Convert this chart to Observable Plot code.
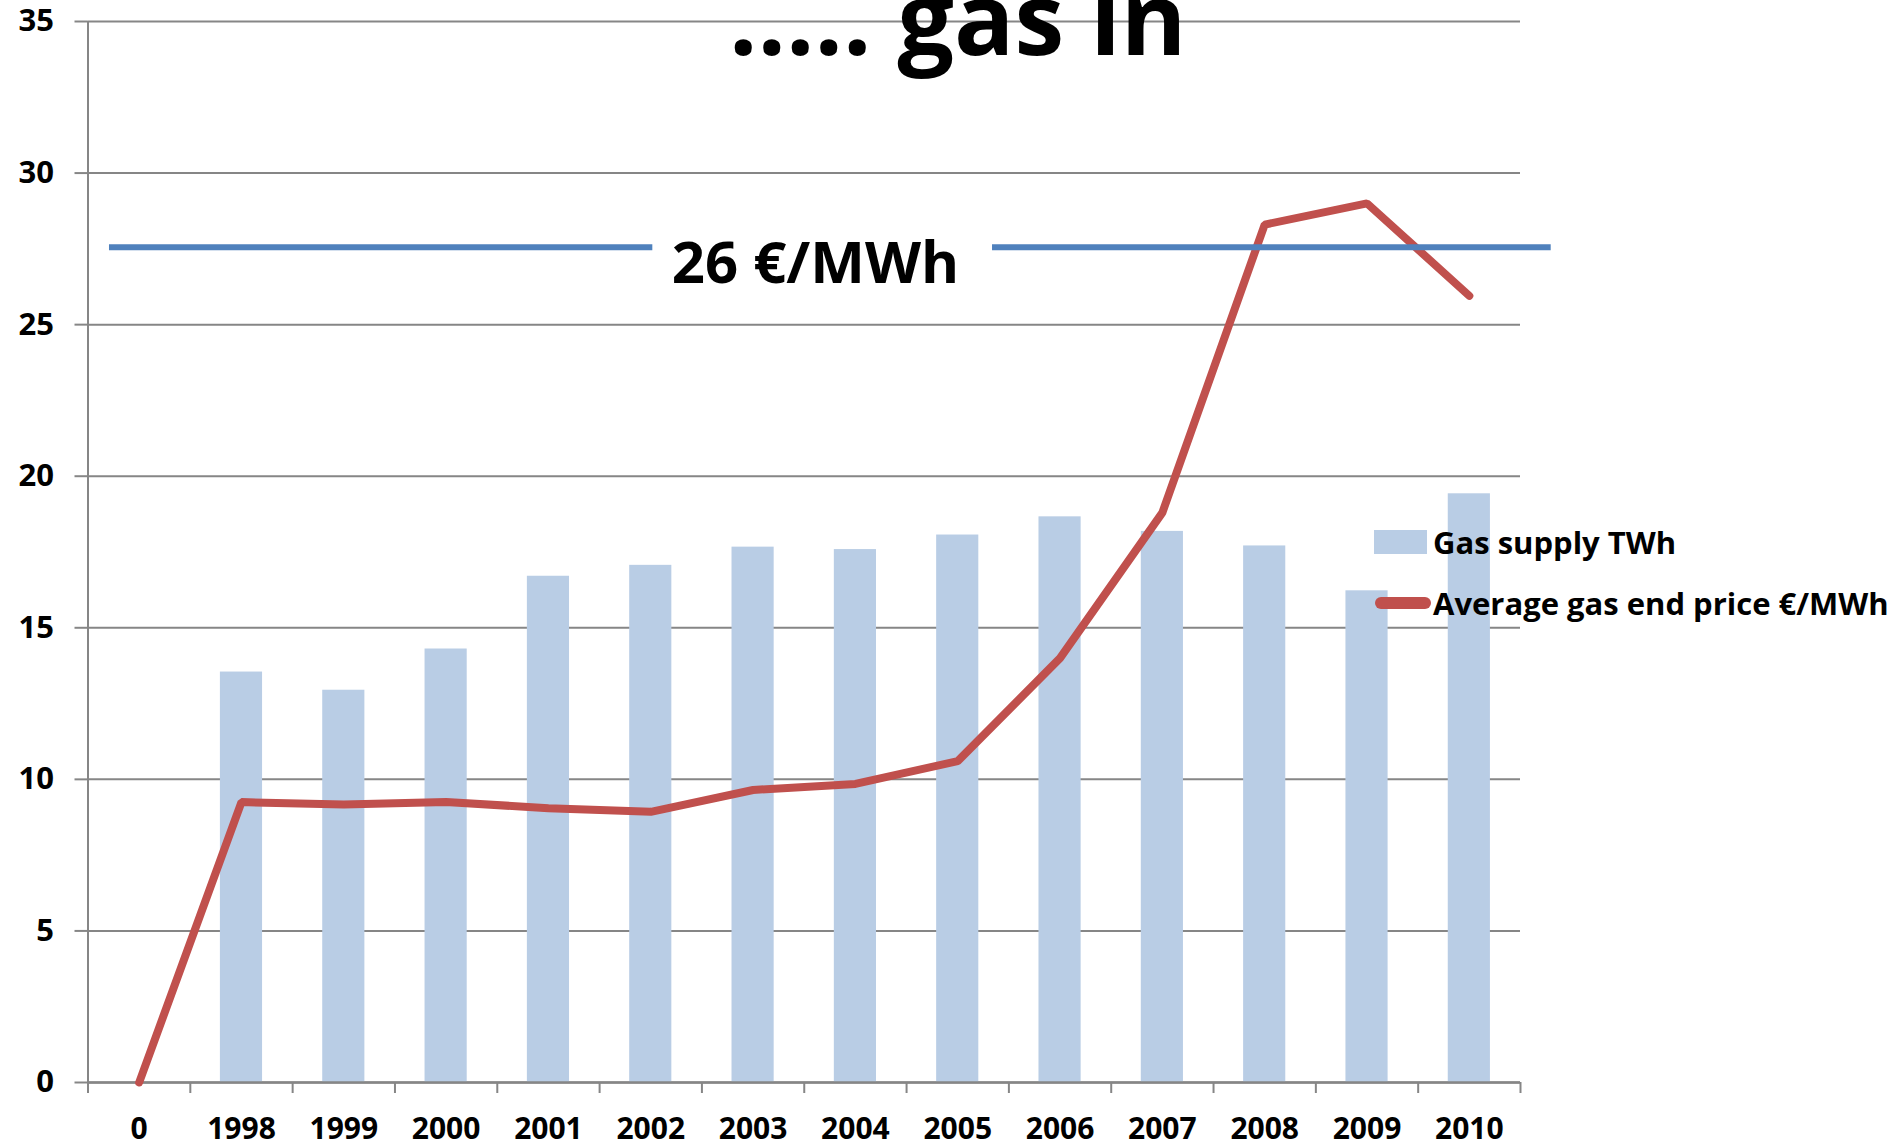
<!DOCTYPE html>
<html>
<head>
<meta charset="utf-8">
<script src="https://cdn.jsdelivr.net/npm/d3@7"></script>
<script src="https://cdn.jsdelivr.net/npm/@observablehq/plot@0.6"></script>
<style>
html, body { margin: 0; padding: 0; background: #fff; overflow: hidden; }
#wrap { position: relative; width: 1903px; height: 1147px; font-family: "Open Sans", sans-serif; }
#wrap > svg { position: absolute; left: 0; top: 0; }
.legend { position: absolute; left: 1374px; height: 40px; display: flex; align-items: center; font-weight: 700; font-size: 31px; line-height: 40px; color: #000; white-space: nowrap; }
.sw-bar { flex: none; width: 53px; height: 24px; background: #B9CDE5; margin-right: 6px; }
.sw-line { flex: none; display: block; width: 58px; height: 14px; margin-right: 1px; }
</style>
</head>
<body>
<div id="wrap"></div>
<script>
// ---- data ----
const categories = ["0", "1998", "1999", "2000", "2001", "2002", "2003", "2004", "2005", "2006", "2007", "2008", "2009", "2010"];
const gasSupply = [null, 13.54, 12.94, 14.3, 16.7, 17.06, 17.66, 17.58, 18.06, 18.66, 18.18, 17.7, 16.22, 19.42]; // TWh
const gasPrice = [0, 9.25, 9.17, 9.25, 9.05, 8.93, 9.65, 9.85, 10.6, 14.0, 18.8, 28.3, 29.0, 25.95]; // €/MWh
const yTicks = [0, 5, 10, 15, 20, 25, 30, 35];
const seriesNames = ["Gas supply TWh", "Average gas end price €/MWh"];
const titleText = "..... gas in";
const priceLevel = 27.55;          // level of the reference line (value units)
const priceLevelLabel = "26 €/MWh";

const colors = { bar: "#B9CDE5", line: "#C0504D", ref: "#4F81BD", grid: "#868686" };

const rows = categories.map((c, i) => ({ i, cat: c, supply: gasSupply[i], price: gasPrice[i] }));
const barRows = rows.filter(d => d.supply != null);
// reference line segments, broken around its label (x in category-index units)
const refSegments = [{ x1: -0.29, x2: 5.02, y: priceLevel }, { x1: 8.34, x2: 13.8, y: priceLevel }];

const font = { fontSize: 31, fontWeight: 700, fill: "#000" };

const chart = Plot.plot({
  width: 1903,
  height: 1147,
  marginLeft: 87.5,
  marginRight: 383,
  marginTop: 21,
  marginBottom: 65,
  style: { fontFamily: "'Open Sans', sans-serif", background: "transparent" },
  x: { type: "linear", domain: [-0.5, categories.length - 0.5] },
  y: { domain: [0, 35] },
  marks: [
    Plot.gridY({ ticks: yTicks, stroke: colors.grid, strokeOpacity: 1, strokeWidth: 2 }),
    Plot.rectY(barRows, { x1: d => d.i - 0.206, x2: d => d.i + 0.206, y1: 0, y2: "supply", fill: colors.bar }),
    Plot.ruleY([0], { stroke: colors.grid, strokeWidth: 2.5 }),
    Plot.ruleX([-0.5], { y1: 0, y2: 35, stroke: colors.grid, strokeWidth: 2 }),
    Plot.axisY({ ticks: yTicks, tickSize: 13, tickPadding: 21, stroke: colors.grid, strokeWidth: 2, ...font, label: null }),
    Plot.axisX({ ticks: d3.range(-0.5, categories.length, 1), tickSize: 11, tickFormat: () => "", stroke: colors.grid, strokeWidth: 2, label: null }),
    Plot.axisX({ ticks: d3.range(0, categories.length), tickSize: 0, tickPadding: 56, lineAnchor: "bottom", tickFormat: i => categories[i], ...font, fontSize: 30, label: null }),
    Plot.line(rows, { x: "i", y: "price", stroke: colors.line, strokeWidth: 8, strokeLinejoin: "miter" }),
    Plot.ruleY(refSegments, { x1: "x1", x2: "x2", y: "y", stroke: colors.ref, strokeWidth: 6 }),
    Plot.text([priceLevelLabel], { x: 6.61, y: 27.0, text: d => d, fontSize: 58, fontWeight: 700, fill: "#000", lineAnchor: "middle", textAnchor: "middle" }),
    Plot.text([titleText], { x: 8.0, y: 33.88, text: d => d, fontSize: 100, fontWeight: 700, fill: "#000", lineAnchor: "bottom", textAnchor: "middle" })
  ]
});

const wrap = document.getElementById("wrap");
wrap.appendChild(chart);

// legend
const l1 = document.createElement("div");
l1.className = "legend";
l1.style.top = "522px";
l1.innerHTML = `<div class="sw-bar"></div><span>${seriesNames[0]}</span>`;
wrap.appendChild(l1);

const l2 = document.createElement("div");
l2.className = "legend";
l2.style.top = "583px";
l2.innerHTML = `<svg class="sw-line" width="58" height="14" viewBox="0 0 58 14"><line x1="7" y1="7" x2="51" y2="7" stroke="${colors.line}" stroke-width="12" stroke-linecap="round"/></svg><span>${seriesNames[1]}</span>`;
wrap.appendChild(l2);
</script>
</body>
</html>
